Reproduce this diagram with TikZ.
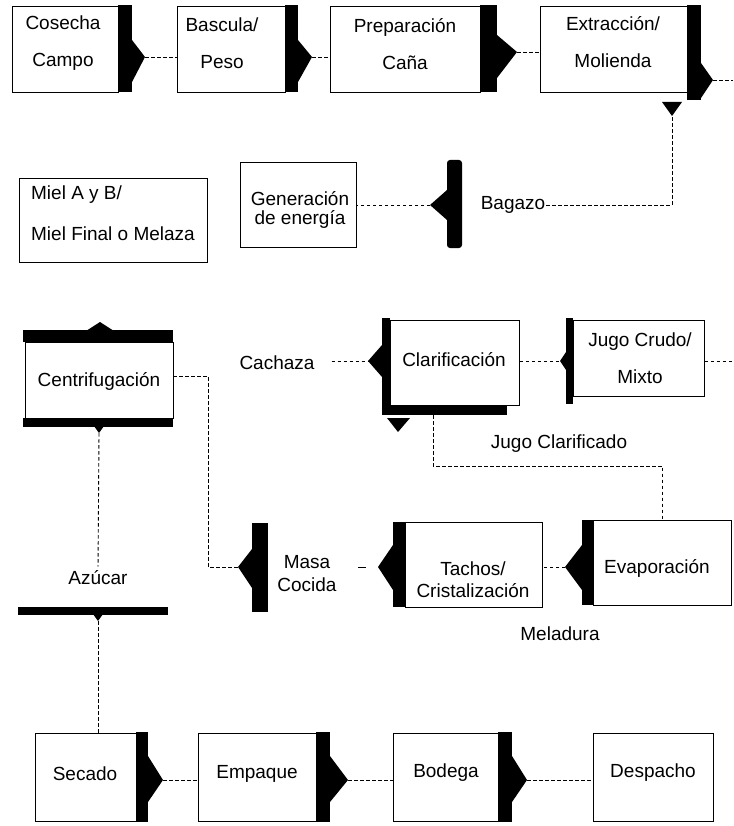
\documentclass[tikz,border=0pt]{standalone}
\usepackage{fontspec}
\setmainfont{Liberation Sans}
\begin{document}
\begin{tikzpicture}[x=1pt,y=-1pt,
  box/.style={draw,line width=0.9pt,anchor=north west,inner sep=0pt},
  lbl/.style={font=\fontsize{19}{21.5}\selectfont,align=center,inner sep=1pt},
  conn/.style={line width=0.9pt,dash pattern=on 3.5pt off 2.5pt},
  blk/.style={fill=black}]
\useasboundingbox (0,0) rectangle (733,826);

% ---------- boxes ----------
\node[box,minimum width=106pt,minimum height=86pt] (cos) at (12,6) {};
\node[box,minimum width=108pt,minimum height=86pt] (bas) at (177,6) {};
\node[box,minimum width=150pt,minimum height=86pt] (pre) at (330,6) {};
\node[box,minimum width=147pt,minimum height=86pt] (ext) at (540,6) {};
\node[box,minimum width=116pt,minimum height=85pt] (gen) at (240,162) {};
\node[box,minimum width=188pt,minimum height=84pt] (miel) at (19,178) {};
\node[box,minimum width=148pt,minimum height=76pt] (cen) at (25,342) {};
\node[box,minimum width=129pt,minimum height=85pt] (clar) at (390,320) {};
\node[box,minimum width=131pt,minimum height=76pt] (jugo) at (573,320) {};
\node[box,minimum width=137pt,minimum height=85pt] (tac) at (405,522) {};
\node[box,minimum width=138pt,minimum height=85pt] (evap) at (593,520) {};
\node[box,minimum width=101pt,minimum height=88pt] (sec) at (35,733) {};
\node[box,minimum width=118pt,minimum height=88pt] (emp) at (198,733) {};
\node[box,minimum width=105pt,minimum height=88pt] (bod) at (393,733) {};
\node[box,minimum width=120pt,minimum height=88pt] (des) at (593,733) {};

% ---------- texts ----------
\node[lbl] (cos-t) at (63,43) {Cosecha\\[15.5pt]Campo};
\node[lbl] (bas-t) at (222,43) {Bascula/\\[15.5pt]Peso};
\node[lbl] (pre-t) at (405,44) {Preparación\\[15.5pt]Caña};
\node[lbl] (ext-t) at (613,42) {Extracción/\\[15.5pt]Molienda};
\node[lbl] (gen-t) at (300,210) {Generación\\[-2.5pt]de energía};
\node[lbl] (bag-t) at (513,205) {Bagazo};
\node[lbl,align=left] (miel-t) at (113,213) {Miel A y B/\\[19.5pt]Miel Final o Melaza};
\node[lbl] (cen-t) at (99,381) {Centrifugación};
\node[lbl] (cac-t) at (277,363) {Cachaza};
\node[lbl] (clar-t) at (454,360) {Clarificación};
\node[lbl] (jug-t) at (640,358) {Jugo Crudo/\\[15.5pt]Mixto};
\node[lbl] (jcl-t) at (559,444) {Jugo Clarificado};
\node[lbl] (masa-t) at (307,574) {Masa\\[1.5pt]Cocida};
\node[lbl] (tac-t) at (473,580) {Tachos/\\[0.5pt]Cristalización};
\node[lbl] (evap-t) at (657,568) {Evaporación};
\node[lbl] (mel-t) at (560,634) {Meladura};
\node[lbl] (azu-t) at (98,578) {Azúcar};
\node[lbl] (sec-t) at (85,774) {Secado};
\node[lbl] (emp-t) at (257,774) {Empaque};
\node[lbl] (bod-t) at (446,773) {Bodega};
\node[lbl] (des-t) at (653,773) {Despacho};

% ---------- black bars and tips ----------
\fill[blk] (118,5) rectangle (132,92);
\fill[blk] (132,40) -- (145,57) -- (132,82) -- cycle;
\fill[blk] (285,5) rectangle (298,92);
\fill[blk] (298,40) -- (312,57) -- (298,82) -- cycle;
\fill[blk] (480,5) rectangle (497,92);
\fill[blk] (497,35) -- (517,52) -- (497,78) -- cycle;
\fill[blk] (687,5) rectangle (701,100);
\fill[blk] (701,63) -- (713,80) -- (701,98) -- cycle;
\fill[blk] (662,102) -- (682,102) -- (672,116) -- cycle;

\fill[blk,rounded corners=3pt] (447,160) rectangle (462,248);
\fill[blk] (447,190) -- (430,205) -- (447,220) -- cycle;

\fill[blk] (23,330) rectangle (173,342);
\fill[blk] (86,331) -- (100,322) -- (114,331) -- cycle;
\fill[blk] (23,418) rectangle (173,427);
\fill[blk] (94,426) -- (99,433) -- (104,426) -- cycle;

\fill[blk] (382,318) rectangle (390,413);
\fill[blk] (382,405) rectangle (507,415);
\fill[blk] (382,345) -- (368,361) -- (382,377) -- cycle;
\fill[blk] (387,418) -- (410,418) -- (398,432) -- cycle;

\fill[blk] (566,318) rectangle (573,404);
\fill[blk] (566,352) -- (560,361) -- (566,370) -- cycle;

\fill[blk] (252,523) rectangle (268,612);
\fill[blk] (252,549) -- (238,567) -- (252,588) -- cycle;
\fill[blk] (393,522) rectangle (405,607);
\fill[blk] (393,545) -- (378,567) -- (393,590) -- cycle;
\fill[blk] (582,520) rectangle (593,605);
\fill[blk] (582,545) -- (565,567) -- (582,590) -- cycle;

\fill[blk] (18,607) rectangle (168,615);
\fill[blk] (93,614) -- (98,621) -- (103,614) -- cycle;

\fill[blk] (136,732) rectangle (148,822);
\fill[blk] (148,756) -- (163,780) -- (148,802) -- cycle;
\fill[blk] (316,732) rectangle (330,822);
\fill[blk] (330,756) -- (348,780) -- (330,802) -- cycle;
\fill[blk] (498,732) rectangle (512,822);
\fill[blk] (512,756) -- (527,780) -- (512,802) -- cycle;

% ---------- connector points ----------
\coordinate (a-cos) at (145,57);
\coordinate (a-bas) at (312,57);
\coordinate (a-pre) at (517,52);
\coordinate (a-ext) at (713,80);
\coordinate (ext-out) at (733,80);
\coordinate (tri) at (672,116);
\coordinate (a-bag) at (430,205);
\coordinate (cen-r) at (173,376);
\coordinate (cen-b) at (99,433);
\coordinate (turn1) at (208,567);
\coordinate (a-masa) at (238,567);
\coordinate (a-clar) at (368,361);
\coordinate (a-jug) at (560,361);
\coordinate (jug-out) at (733,361);
\coordinate (clar-b) at (433,415);
\coordinate (turn2) at (433,466);
\coordinate (a-tac) at (378,567);
\coordinate (md) at (358,567);
\coordinate (a-evap) at (565,567);
\coordinate (azu-b) at (98,621);
\coordinate (a-sec) at (163,780);
\coordinate (a-emp) at (348,780);
\coordinate (a-bod) at (527,780);

% ---------- connectors ----------
\draw[conn] (a-cos) -- (a-cos -| bas.west);
\draw[conn] (a-bas) -- (a-bas -| pre.west);
\draw[conn] (a-pre) -- (a-pre -| ext.west);
\draw[conn] (a-ext) -- (ext-out);
\draw[conn] (bag-t.east) -| (tri);
\draw[conn] (a-bag) -- (a-bag -| gen.east);
\draw[conn] (cen-r) -| (turn1) -- (a-masa);
\draw[conn,shorten >=3pt] (cen-b) -- (azu-t.north);
\draw[conn,shorten <=16pt] (cac-t.east |- a-clar) -- (a-clar);
\draw[conn] (a-clar -| clar.east) -- (a-jug);
\draw[conn] (a-jug -| jugo.east) -- (jug-out);
\draw[conn] (clar-b) -- (turn2) -| (evap.north);
\draw[conn] (a-evap) -- (a-evap -| tac.east);
\draw[line width=0.9pt] (md) -- ++(8,0);
\draw[conn] (azu-b) -- (azu-b |- sec.north);
\draw[conn] (a-sec) -- (a-sec -| emp.west);
\draw[conn] (a-emp) -- (a-emp -| bod.west);
\draw[conn] (a-bod) -- (a-bod -| des.west);
\end{tikzpicture}
\end{document}
